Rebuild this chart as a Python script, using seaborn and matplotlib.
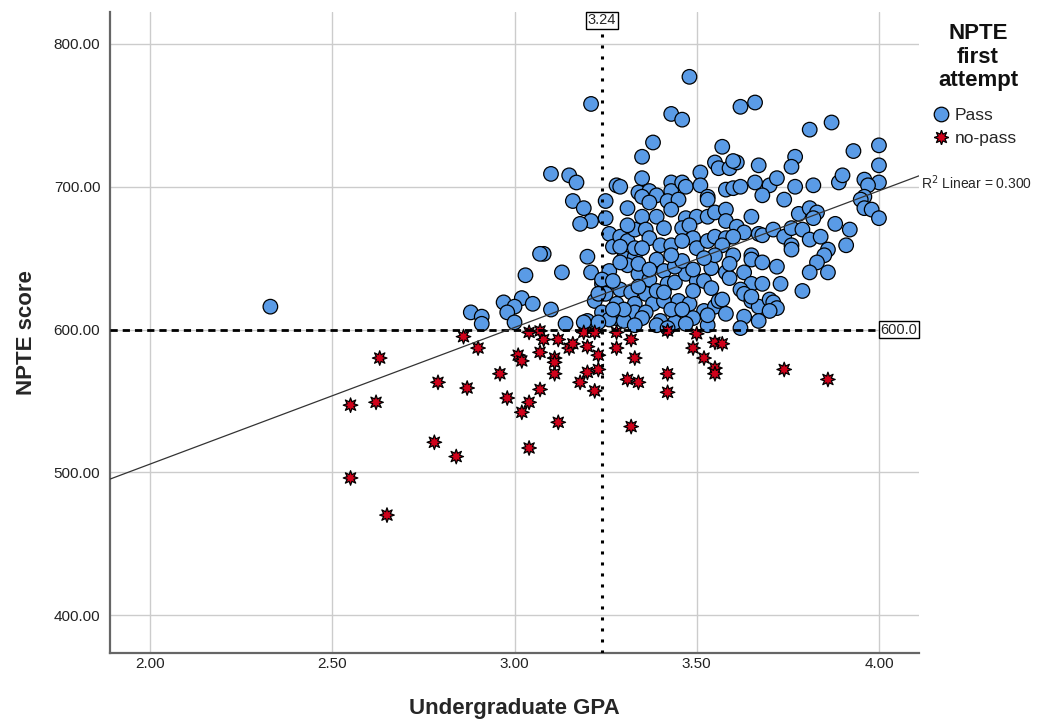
import seaborn as sns
from matplotlib import pyplot as plt
import pandas as pd
import numpy as np

# values
pass_gpa = [
    2.33, 3.21, 3.48, 3.43, 3.46, 3.38, 3.35, 3.35, 3.10, 3.15, 3.17, 3.28, 3.29, 3.34, 3.37, 3.39,
    3.43, 3.43, 3.46, 3.47, 3.51, 3.51, 3.53, 3.57, 3.55, 3.56,
    3.62, 3.66, 3.81, 3.87, 3.93, 4.00, 4.00, 4.00, 3.59, 3.61, 3.60, 3.67, 3.77, 3.76, 3.58, 3.60,
    3.62, 3.66, 3.70, 3.72, 3.77, 3.82, 3.89, 3.90, 3.96, 3.97, 3.68, 3.74, 3.96,
    3.16, 3.19, 3.21, 3.18, 3.25, 3.25, 3.31, 3.26, 3.27, 3.29, 3.31, 3.33, 3.35, 3.39, 3.35, 3.37,
    3.42, 3.45, 3.47, 3.50, 3.53, 3.53, 3.55, 3.36, 3.41, 3.37, 3.40, 3.43, 3.46, 3.48, 3.49, 3.46,
    3.50, 3.53, 3.55, 3.08, 3.20, 3.13, 3.21, 3.26, 3.30, 3.33, 3.31, 3.34, 3.37, 3.39, 3.41, 3.42,
    3.44, 3.47, 3.50, 3.52, 3.54, 3.54, 3.24, 3.29, 3.32, 3.22, 3.25, 3.28, 3.24, 3.33, 3.36, 3.38,
    3.41, 3.45, 3.48, 3.49, 3.52, 3.55, 3.33, 3.36, 3.40, 3.44, 3.49, 3.10, 3.14, 3.20, 3.28, 3.30,
    3.58, 3.65, 3.58, 3.61, 3.63, 3.58, 3.60, 3.67, 3.68, 3.71, 3.74, 3.76, 3.78, 3.81, 3.83, 3.82,
    3.79, 3.81, 3.84, 3.88, 3.92, 3.91, 3.86, 3.85, 3.83, 3.81, 3.86, 3.79, 3.95, 3.96, 3.98, 4.00,
    3.76, 3.76, 3.57, 3.60, 3.65, 3.65, 3.68, 3.72, 3.58, 3.63, 3.59, 3.65, 3.68, 3.73, 3.62, 3.63,
    3.65, 3.56, 3.67, 3.70, 3.71, 3.72, 3.70, 3.58, 3.63, 3.67, 3.62,
    3.07, 3.03, 2.97, 3.02, 3.00, 3.05, 2.98, 2.88, 2.91, 2.91, 3.00,
    3.31, 3.43, 3.26, 3.24, 3.27, 3.34, 3.39, 3.41, 3.43, 3.46, 3.30, 3.27, 3.23, 3.23, 3.35, 3.33,
    3.39, 3.42, 3.47, 3.53, 3.29, 3.33, 3.29, 3.34, 3.37, 3.44, 3.46, 3.49, 3.43, 3.35, 3.55, 3.52,
    3.59, 3.53, 3.19, 3.65, 3.57,
]
pass_score = [
    616, 758, 777, 751, 747, 731, 721, 706, 709, 708, 703, 701, 700, 696, 697, 694,
    703, 697, 703, 700, 710, 701, 693, 728, 717, 713,
    756, 759, 740, 745, 725, 729, 715, 703, 713, 717, 718, 715, 721, 714, 698, 699,
    700, 703, 701, 706, 700, 701, 703, 708, 705, 701, 694, 691, 693,
    690, 685, 676, 674, 690, 678, 685, 667, 658, 665, 662, 670, 679, 679, 693, 689,
    690, 691, 678, 679, 691, 679, 682, 670, 671, 664, 659, 659, 671, 673, 664, 662,
    657, 662, 665, 653, 651, 640, 640, 641, 650, 651, 645, 639, 635, 649, 641, 632,
    633, 639, 634, 634, 643, 629, 632, 628, 626, 620, 625, 618, 612, 618, 625, 618,
    620, 620, 618, 627, 613, 616, 612, 612, 606, 605, 608, 614, 604, 606, 608, 606,
    684, 679, 676, 672, 668, 664, 665, 667, 666, 670, 665, 671, 681, 685, 682, 678,
    670, 663, 665, 674, 670, 659, 656, 652, 647, 640, 640, 627, 691, 685, 684, 678,
    659, 656, 659, 652, 652, 649, 647, 644, 640, 640, 636, 632, 632, 632, 628, 625,
    620, 620, 616, 621, 619, 615, 613, 611, 609, 606, 601,
    653, 638, 619, 622, 616, 618, 612, 612, 609, 604, 605,
    673, 684, 607, 635, 634, 630, 627, 626, 614, 614, 614, 614, 625, 605, 608, 603,
    603, 601, 604, 603, 658, 657, 647, 646, 642, 644, 648, 642, 652, 657, 652, 650,
    646, 610, 605, 623, 621,
]
fail_gpa = [
    2.55, 2.55, 2.63, 2.62, 2.65, 2.78, 2.84, 2.79, 2.87, 2.86, 2.90, 2.96, 2.98, 3.01, 3.02, 3.02,
    3.04, 3.04, 3.04, 3.07, 3.07, 3.08, 3.11, 3.11, 3.12, 3.12, 3.15, 3.16, 3.18, 3.19, 3.20, 3.20,
    3.22, 3.23, 3.23, 3.22, 3.28, 3.28, 3.32, 3.33, 3.31, 3.34, 3.32, 3.42, 3.42, 3.42, 3.50, 3.49,
    3.55, 3.57, 3.52, 3.55, 3.55, 3.74, 3.86, 3.07, 3.11,
]
fail_score = [
    496, 547, 580, 549, 470, 521, 511, 563, 559, 595, 587, 569, 552, 582, 578, 542,
    549, 517, 598, 558, 584, 593, 580, 569, 593, 535, 587, 590, 563, 598, 588, 570,
    598, 582, 572, 557, 598, 587, 593, 580, 565, 563, 532, 599, 569, 556, 597, 587,
    591, 590, 580, 573, 569, 572, 565, 599, 577,
]

gpa_cut = 3.24
score_cut = 600.0
r2_text = "R$^2$ Linear = 0.300"
legend_title = "NPTE\nfirst\nattempt"

df = pd.DataFrame({
    "gpa": pass_gpa + fail_gpa,
    "score": pass_score + fail_score,
    "result": ["Pass"] * len(pass_gpa) + ["no-pass"] * len(fail_gpa),
})

sns.set_theme(style="whitegrid")
plt.rcParams["font.family"] = ["Liberation Sans", "DejaVu Sans"]

fig = plt.figure(figsize=(10.44, 7.19), dpi=100)
ax = fig.add_axes([0.1054, 0.0918, 0.7749, 0.8915])
ax.set_xlim(1.89, 4.11)
ax.set_ylim(373.4, 822.4)

sns.scatterplot(data=df, x="gpa", y="score", hue="result", style="result",
                palette={"Pass": "#5a9be6", "no-pass": "#d0021b"},
                markers={"Pass": "o", "no-pass": (8, 1, 0)},
                s=110, edgecolor="black", linewidth=0.9, ax=ax, zorder=3)

# fit line over all points
sns.regplot(data=df, x="gpa", y="score", scatter=False, ci=None, truncate=False,
            color="#333333", line_kws={"linewidth": 0.9, "zorder": 5}, ax=ax)

# reference lines
ax.axvline(gpa_cut, color="black", linestyle=(0, (1, 2.6)), linewidth=2.2, zorder=4)
ax.axhline(score_cut, color="black", linestyle=(0, (2.6, 1.8)), linewidth=2.0, zorder=4)
box = dict(boxstyle="square,pad=0.1", facecolor="white", edgecolor="black", linewidth=1)
ax.text(gpa_cut, 816.5, f"{gpa_cut:.2f}", ha="center", va="center", fontsize=10.5, bbox=box, zorder=6)
ax.text(4.055, score_cut, f"{score_cut:.1f}", ha="center", va="center", fontsize=10.5, bbox=box, zorder=6)
ax.text(4.115, 703, r2_text, ha="left", va="center", fontsize=10, clip_on=False)

ax.set_xticks([2.0, 2.5, 3.0, 3.5, 4.0])
ax.set_yticks([400, 500, 600, 700, 800])
ax.xaxis.set_major_formatter(lambda v, p: f"{v:.2f}")
ax.yaxis.set_major_formatter(lambda v, p: f"{v:.2f}")
ax.tick_params(length=0, labelsize=11, colors="#222222")
ax.tick_params(axis="x", pad=3)
ax.tick_params(axis="y", pad=7)
ax.grid(True, color="#cccccc", linewidth=1)
for side in ["top", "right"]:
    ax.spines[side].set_visible(False)
for side in ["left", "bottom"]:
    ax.spines[side].set_color("#666666")
    ax.spines[side].set_linewidth(1.6)

ax.set_xlabel("Undergraduate GPA", fontsize=16, fontweight="bold", labelpad=19)
ax.set_ylabel("NPTE score", fontsize=16, fontweight="bold", labelpad=12)

# legend: title as its own text, entries below
fig.text(0.9368, 0.9207, legend_title, ha="center", va="center", fontsize=16,
         fontweight="bold", linespacing=1.15, color="#111111")
handles, labels = ax.get_legend_handles_labels()
ax.legend(handles, labels, frameon=False, fontsize=12.5,
          loc="upper left", bbox_to_anchor=(0.8927, 0.8500), bbox_transform=fig.transFigure,
          handlelength=1.0, handletextpad=0.3, labelspacing=0.45,
          borderaxespad=0, borderpad=0)

fig.savefig("out.png", dpi=100)
